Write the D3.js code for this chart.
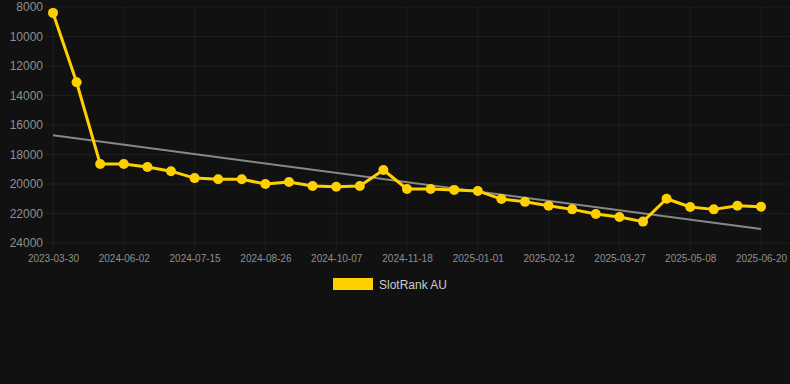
<!DOCTYPE html>
<html>
<head>
<meta charset="utf-8">
<script src="https://cdn.jsdelivr.net/npm/d3@7"></script>
<style>
html,body{margin:0;padding:0;background:#111111;}
svg{display:block;}
text{font-family:"Liberation Sans",Arial,sans-serif;}
</style>
</head>
<body>
<svg id="chart" width="790" height="384"></svg>
<script>
const dates = ["2023-03-30","2024-05-05","2024-05-19","2024-06-02","2024-06-16","2024-06-30",
  "2024-07-15","2024-07-29","2024-08-12","2024-08-26","2024-09-09","2024-09-23",
  "2024-10-07","2024-10-21","2024-11-04","2024-11-18","2024-12-02","2024-12-16",
  "2025-01-01","2025-01-15","2025-01-29","2025-02-12","2025-02-26","2025-03-12",
  "2025-03-27","2025-04-10","2025-04-24","2025-05-08","2025-05-22","2025-06-05","2025-06-20"];
const rankAU = [8400,13100,18650,18650,18850,19130,19600,19680,19680,20000,19860,20140,
  20190,20140,19050,20340,20340,20400,20470,21020,21210,21470,21720,22030,22240,22550,
  21000,21560,21720,21480,21540];
const yTicks = [8000,10000,12000,14000,16000,18000,20000,22000,24000];
const seriesName = "SlotRank AU";

const svg = d3.select("#chart");
const W = 790;
const x = d3.scalePoint().domain(dates).range([53, 761]);
const y = d3.scaleLinear().domain([8000, 24000]).range([7, 243]);

const gridColor = "rgba(255,255,255,0.055)";
const tickText = "#8f8f8f";

// horizontal grid
svg.append("g").selectAll("line").data(yTicks).join("line")
  .attr("x1", 45).attr("x2", W)
  .attr("y1", d => y(d)).attr("y2", d => y(d))
  .attr("stroke", gridColor).attr("stroke-width", 1);

const xTickVals = dates.filter((d, i) => i % 3 === 0);
// vertical grid
svg.append("g").selectAll("line").data(xTickVals).join("line")
  .attr("x1", d => x(d)).attr("x2", d => x(d))
  .attr("y1", 7).attr("y2", 251)
  .attr("stroke", gridColor).attr("stroke-width", 1);

// y axis
const yAxis = svg.append("g").attr("transform", "translate(43,0)")
  .call(d3.axisLeft(y).tickValues(yTicks).tickSize(0).tickPadding(0).tickFormat(d3.format("d")));
yAxis.select(".domain").remove();
yAxis.selectAll("text").attr("fill", tickText).style("font-size", "12px");

// x axis
const xAxis = svg.append("g").attr("transform", "translate(0,252)")
  .call(d3.axisBottom(x).tickValues(xTickVals).tickSize(0).tickPadding(3));
xAxis.select(".domain").remove();
xAxis.selectAll("text").attr("fill", tickText).style("font-size", "10px");

// trend line (least squares)
const n = rankAU.length;
const idx = d3.range(n);
const mx = d3.mean(idx), my = d3.mean(rankAU);
const slope = d3.sum(idx, i => (i - mx) * (rankAU[i] - my)) / d3.sum(idx, i => (i - mx) * (i - mx));
const icpt = my - slope * mx;
svg.append("line")
  .attr("x1", x(dates[0])).attr("y1", y(icpt))
  .attr("x2", x(dates[n - 1])).attr("y2", y(icpt + slope * (n - 1)))
  .attr("stroke", "#888888").attr("stroke-width", 2);

const gold = "#FFD000";
const line = d3.line().x((d, i) => x(dates[i])).y(d => y(d));
svg.append("path").datum(rankAU)
  .attr("d", line).attr("fill", "none")
  .attr("stroke", gold).attr("stroke-width", 3).attr("stroke-linejoin", "round");

svg.append("g").selectAll("circle").data(rankAU).join("circle")
  .attr("cx", (d, i) => x(dates[i])).attr("cy", d => y(d))
  .attr("r", 5).attr("fill", gold);

// legend
const lg = svg.append("g");
lg.append("rect").attr("x", 333).attr("y", 278).attr("width", 40).attr("height", 12).attr("fill", gold);
lg.append("text").attr("x", 379).attr("y", 288.5).attr("fill", "#cccccc")
  .style("font-size", "12px").text(seriesName);
</script>
</body>
</html>
